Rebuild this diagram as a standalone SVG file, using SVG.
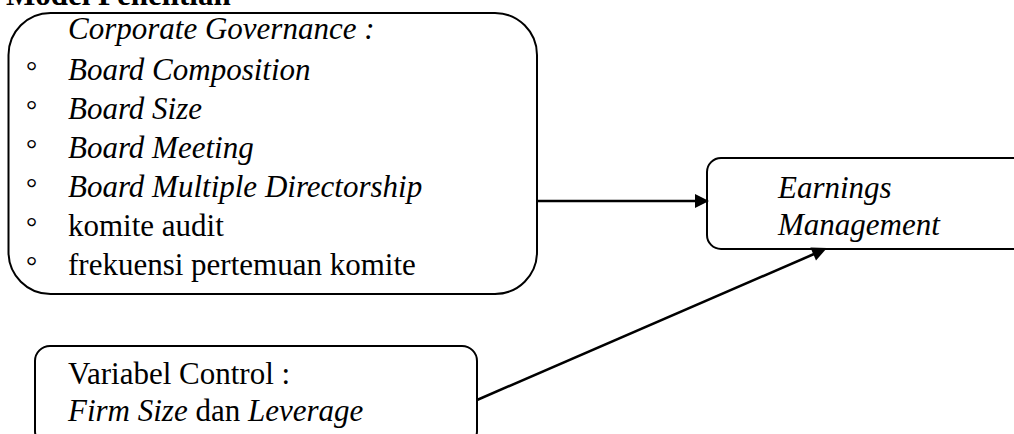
<svg xmlns="http://www.w3.org/2000/svg" width="1014" height="434" viewBox="0 0 1014 434">
  <style>
    text { font-family: "Liberation Serif", "Times New Roman", serif; font-size: 31px; fill: #000; }
    .it { font-style: italic; }
    .title { font-weight: bold; }
    .bul { font-size: 28px; }
    .box { fill: #fff; stroke: #000; stroke-width: 2; }
    .conn { stroke: #000; stroke-width: 2.5; fill: none; }
    .head { fill: #000; stroke: none; }
  </style>
  <rect width="1014" height="434" fill="#fff"/>
  <text class="title" x="6" y="5">Model Penelitian</text>

  <g id="node-corporate-governance">
    <rect class="box" x="8.5" y="13" width="528.5" height="281" rx="42" ry="42"/>
    <text class="it" x="68" y="39">Corporate Governance :</text>
    <text class="bul" x="26" y="80">°</text>
    <text class="it" x="68" y="80">Board Composition</text>
    <text class="bul" x="26" y="119">°</text>
    <text class="it" x="68" y="119">Board Size</text>
    <text class="bul" x="26" y="158">°</text>
    <text class="it" x="68" y="158">Board Meeting</text>
    <text class="bul" x="26" y="197">°</text>
    <text class="it" x="68" y="197">Board Multiple Directorship</text>
    <text class="bul" x="26" y="236">°</text>
    <text x="68" y="236">komite audit</text>
    <text class="bul" x="26" y="275">°</text>
    <text x="68" y="275">frekuensi pertemuan komite</text>
  </g>

  <g id="node-earnings-management">
    <rect class="box" x="707" y="158" width="330" height="91" rx="14" ry="14"/>
    <text class="it" x="778" y="198">Earnings</text>
    <text class="it" x="778" y="235">Management</text>
  </g>

  <g id="node-variabel-control">
    <rect class="box" x="35" y="346" width="442" height="100" rx="15" ry="15"/>
    <text x="68" y="384">Variabel Control :</text>
    <text x="68" y="421"><tspan class="it">Firm Size</tspan> dan <tspan class="it">Leverage</tspan></text>
  </g>

  <g id="connectors">
    <line class="conn" x1="537" y1="201" x2="696" y2="201"/>
    <polygon class="head" points="695,194 709,201 695,208"/>
    <line class="conn" x1="477" y1="400" x2="814" y2="254"/>
    <polygon class="head" points="827,248 816,260.4 810.4,247.6"/>
  </g>
</svg>
